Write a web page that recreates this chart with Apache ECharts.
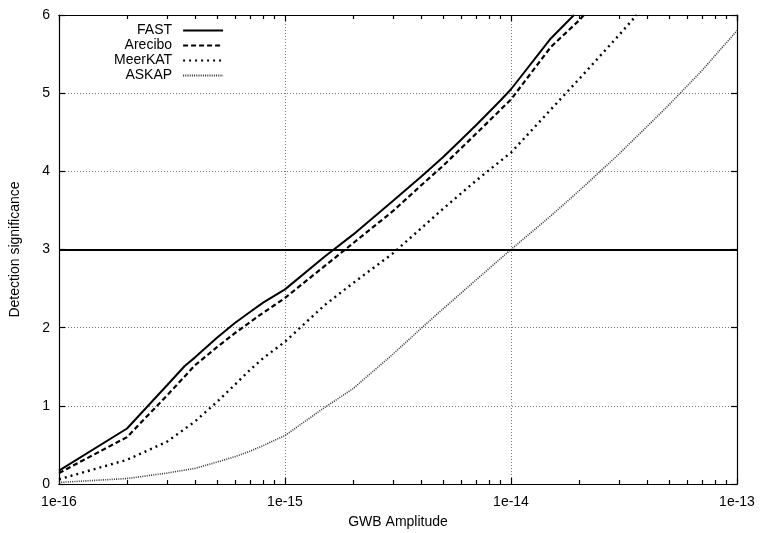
<!DOCTYPE html>
<html><head><meta charset="utf-8">
<script src="https://cdn.jsdelivr.net/npm/echarts@6/dist/echarts.min.js"></script>
<style>html,body{margin:0;padding:0;background:#fff}#c{width:763px;height:533px}</style>
</head><body><div id="c"></div>
<script>
// GWB amplitude samples and detection significance per telescope
const ampFAST = [1e-16,2e-16,3e-16,3.6e-16,4e-16,5e-16,6e-16,7e-16,8e-16,9e-16,1e-15,1.5e-15,2e-15,3e-15,4e-15,5e-15,6e-15,7e-15,8e-15,9e-15,1e-14,1.5e-14,1.9e-14];
const sigFAST = [0.17,0.71,1.26,1.51,1.62,1.87,2.06,2.20,2.32,2.41,2.49,2.91,3.19,3.62,3.93,4.18,4.40,4.59,4.76,4.91,5.05,5.70,6.0];

const ampArecibo = [1e-16,2e-16,3e-16,4e-16,5e-16,6e-16,7e-16,8e-16,9e-16,1e-15,1.5e-15,2e-15,3e-15,4e-15,5e-15,7e-15,1e-14,1.5e-14,2e-14,2.1e-14];
const sigArecibo = [0.14,0.60,1.13,1.52,1.75,1.93,2.07,2.19,2.29,2.38,2.79,3.08,3.49,3.82,4.07,4.48,4.92,5.59,5.93,6.0];

const ampMeerKAT = [1e-16,2e-16,3e-16,4e-16,5e-16,6e-16,7e-16,8e-16,9e-16,1e-15,1.5e-15,2e-15,3e-15,4e-15,5e-15,7e-15,1e-14,1.5e-14,2e-14,3e-14,3.6e-14];
const sigMeerKAT = [0.06,0.31,0.54,0.80,1.05,1.27,1.46,1.61,1.72,1.82,2.29,2.57,2.95,3.27,3.52,3.88,4.24,4.79,5.18,5.74,6.0];

const ampASKAP = [1e-16,2e-16,3e-16,4e-16,5e-16,6e-16,7e-16,8e-16,9e-16,1e-15,1.5e-15,2e-15,3e-15,4e-15,5e-15,7e-15,1e-14,1.5e-14,2e-14,3e-14,5e-14,7e-14,1e-13];
const sigASKAP = [0.02,0.07,0.14,0.20,0.28,0.35,0.42,0.49,0.56,0.62,0.98,1.22,1.66,1.99,2.24,2.61,3.0,3.43,3.75,4.22,4.85,5.29,5.80];

const threshold = 3;
const xTickLabels = ['1e-16','1e-15','1e-14','1e-13'];
const yTickLabels = ['0','1','2','3','4','5','6'];

const xMin = 1e-16, xMax = 1e-13;
const minorTicks = [];
for (let e = -16; e < -13; e++) for (let m = 2; m <= 9; m++) minorTicks.push(m * Math.pow(10, e));

const font = 'Liberation Sans, Arial, Helvetica, sans-serif';
const pair = (xs, ys) => xs.map((x, i) => [x, ys[i]]);

function xAx(pos, major, labels, split) {
  return {
    type: 'log', logBase: 10, min: xMin, max: xMax, position: pos,
    name: labels ? 'GWB Amplitude' : '', nameLocation: 'middle', nameGap: 31,
    nameTextStyle: {fontFamily: font, fontSize: 14, color: '#000'},
    axisLine: {show: true, onZero: false, lineStyle: {color: '#000', width: 1.2}},
    axisTick: major ? {show: true, inside: true, length: 6, lineStyle: {color: '#000', width: 1.2}}
                    : {show: true, inside: true, length: 4, customValues: minorTicks, lineStyle: {color: '#000', width: 1.2}},
    axisLabel: labels ? {show: true, margin: 11, fontFamily: font, fontSize: 14, color: '#000',
                formatter: v => { const i = Math.round(Math.log10(v)) + 16; return xTickLabels[i] || ''; }}
                      : {show: false},
    splitLine: split ? {show: true, lineStyle: {color: '#777', width: 1, type: [1, 2]}} : {show: false},
    minorTick: {show: false}, minorSplitLine: {show: false}
  };
}
function yAx(pos, labels, split) {
  return {
    type: 'value', min: 0, max: 6, interval: 1, position: pos,
    name: labels ? 'Detection significance' : '', nameLocation: 'middle', nameGap: 37,
    nameTextStyle: {fontFamily: font, fontSize: 14, color: '#000'},
    axisLine: {show: true, onZero: false, lineStyle: {color: '#000', width: 1.2}},
    axisTick: {show: true, inside: true, length: 6, lineStyle: {color: '#000', width: 1.2}},
    axisLabel: labels ? {show: true, margin: 9, fontFamily: font, fontSize: 14, color: '#000',
                formatter: v => yTickLabels[Math.round(v)]} : {show: false},
    splitLine: split ? {show: true, lineStyle: {color: '#777', width: 1, type: [1, 2]}} : {show: false}
  };
}

const chart = echarts.init(document.getElementById('c'), null, {renderer: 'canvas'});
chart.setOption({
  backgroundColor: '#fff',
  animation: false,
  grid: {left: 59, right: 26, top: 15, bottom: 49, show: false, containLabel: false, outerBoundsMode: 'none'},
  xAxis: [xAx('bottom', true, true, true), xAx('bottom', false, false, false),
          xAx('top', true, false, false), xAx('top', false, false, false)],
  yAxis: [yAx('left', true, true), yAx('right', false, false)],
  legend: {
    orient: 'vertical', left: 109, top: 18, align: 'right',
    itemWidth: 40, itemHeight: 10, itemGap: 0,
    itemStyle: {opacity: 0},
    textStyle: {fontFamily: font, fontSize: 14, color: '#000', width: 56, align: 'right', lineHeight: 15, padding: [0, 6, 0, 0]},
    data: ['FAST', 'Arecibo', 'MeerKAT', 'ASKAP']
  },
  series: [
    {name: 'FAST', type: 'line', data: pair(ampFAST, sigFAST), showSymbol: false, symbol: 'none', clip: true,
     lineStyle: {color: '#000', width: 2, type: 'solid'}, itemStyle: {color: '#000'},
     markLine: {silent: true, symbol: 'none', label: {show: false}, animation: false,
       lineStyle: {color: '#000', width: 2, type: 'solid'}, data: [{yAxis: threshold}]}},
    {name: 'Arecibo', type: 'line', data: pair(ampArecibo, sigArecibo), showSymbol: false, symbol: 'none', clip: true,
     lineStyle: {color: '#000', width: 2.2, type: [5, 3]}, itemStyle: {color: '#000'}},
    {name: 'MeerKAT', type: 'line', data: pair(ampMeerKAT, sigMeerKAT), showSymbol: false, symbol: 'none', clip: true,
     lineStyle: {color: '#000', width: 2.4, type: [2, 4]}, itemStyle: {color: '#000'}},
    {name: 'ASKAP', type: 'line', data: pair(ampASKAP, sigASKAP), showSymbol: false, symbol: 'none', clip: true,
     lineStyle: {color: '#333', width: 1.6, type: [1, 1.2]}, itemStyle: {color: '#333'}}
  ]
});
</script>
</body></html>
